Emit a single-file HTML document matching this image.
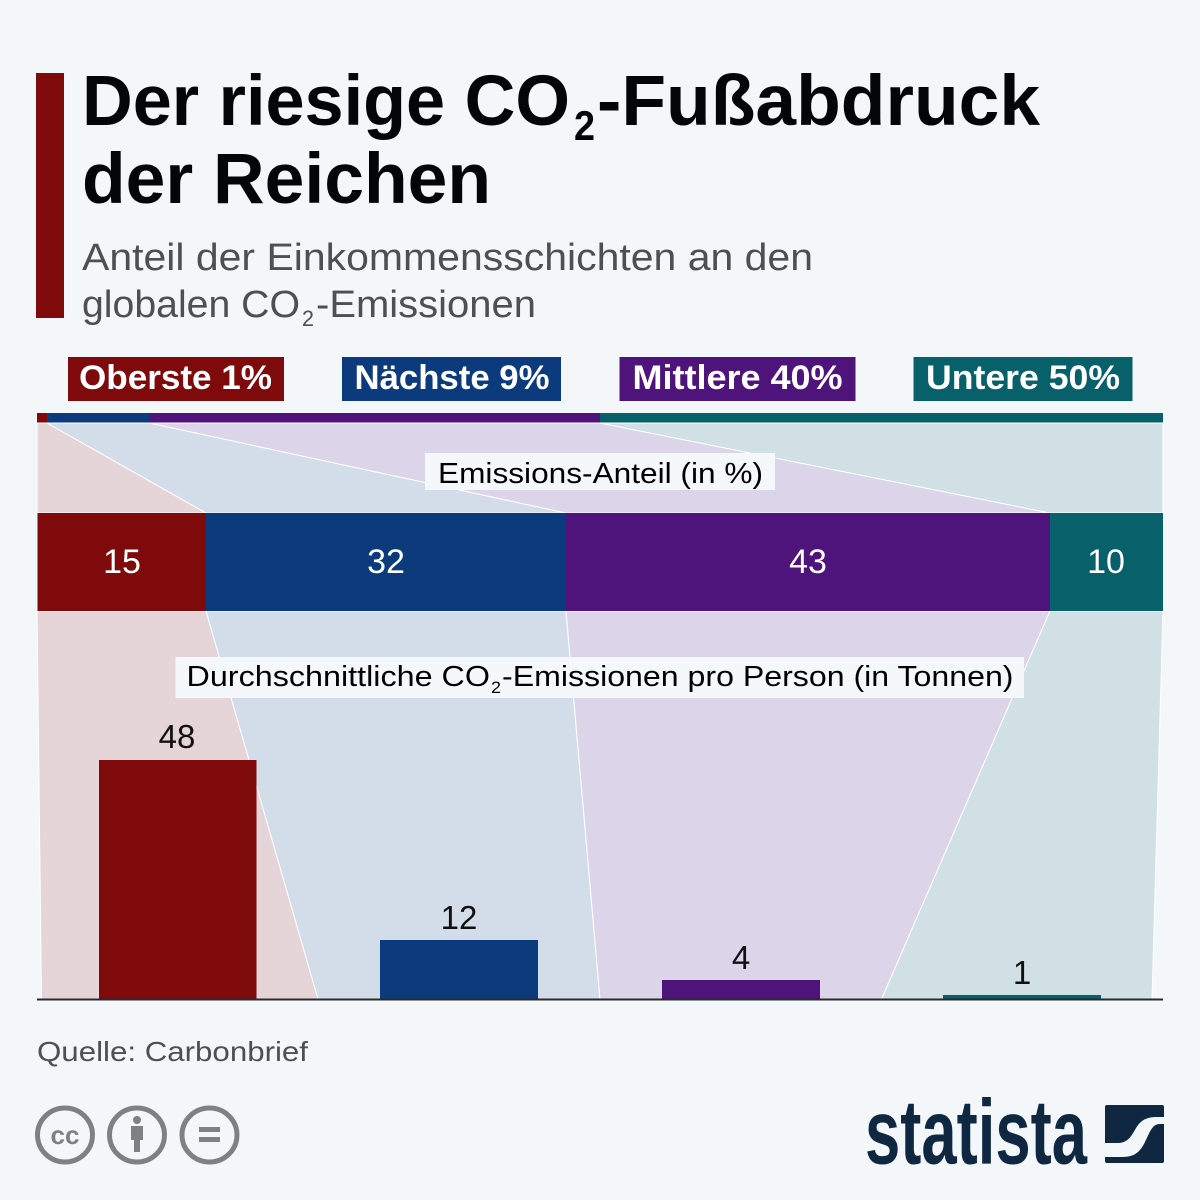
<!DOCTYPE html>
<html>
<head>
<meta charset="utf-8">
<style>
html,body{margin:0;padding:0;background:#f3f7fa;}
svg{display:block;}
text{font-family:"Liberation Sans",sans-serif;}
</style>
</head>
<body>
<svg width="1200" height="1200" viewBox="0 0 1200 1200" xmlns="http://www.w3.org/2000/svg">
<rect x="0" y="0" width="1200" height="1200" fill="#f3f7fa"/>

<!-- Title -->
<rect x="36" y="73" width="28" height="245" fill="#7e0a0c"/>
<text x="82" y="125" font-size="71" font-weight="bold" fill="#030606" textLength="488" lengthAdjust="spacingAndGlyphs">Der riesige CO</text>
<text x="574" y="140" font-size="42" font-weight="bold" fill="#030606" textLength="21" lengthAdjust="spacingAndGlyphs">2</text>
<text x="597" y="125" font-size="71" font-weight="bold" fill="#030606" textLength="443" lengthAdjust="spacingAndGlyphs">-Fußabdruck</text>
<text x="82" y="203" font-size="71" font-weight="bold" fill="#030606" textLength="409" lengthAdjust="spacingAndGlyphs">der Reichen</text>

<!-- Subtitle -->
<text x="82" y="270" font-size="38" fill="#4d4f51" textLength="731" lengthAdjust="spacingAndGlyphs">Anteil der Einkommensschichten an den</text>
<text x="82" y="317" font-size="38" fill="#4d4f51" textLength="218" lengthAdjust="spacingAndGlyphs">globalen CO</text>
<text x="302" y="326" font-size="22" fill="#4d4f51" textLength="12" lengthAdjust="spacingAndGlyphs">2</text>
<text x="316" y="317" font-size="38" fill="#4d4f51" textLength="220" lengthAdjust="spacingAndGlyphs">-Emissionen</text>

<!-- Legend -->
<rect x="68" y="357" width="216" height="44" fill="#7e0a0c"/>
<text x="79" y="389" font-size="34" font-weight="bold" fill="#ffffff" textLength="193" lengthAdjust="spacingAndGlyphs">Oberste 1%</text>
<rect x="342" y="357" width="219" height="44" fill="#0b3b7d"/>
<text x="354.5" y="389" font-size="34" font-weight="bold" fill="#ffffff" textLength="195" lengthAdjust="spacingAndGlyphs">Nächste 9%</text>
<rect x="619.5" y="357" width="236" height="44" fill="#4f137c"/>
<text x="632.5" y="389" font-size="34" font-weight="bold" fill="#ffffff" textLength="210" lengthAdjust="spacingAndGlyphs">Mittlere 40%</text>
<rect x="913.5" y="357" width="219" height="44" fill="#08606a"/>
<text x="926" y="389" font-size="34" font-weight="bold" fill="#ffffff" textLength="194" lengthAdjust="spacingAndGlyphs">Untere 50%</text>

<!-- Top strip -->
<rect x="37" y="413" width="10" height="10" fill="#7e0a0c"/>
<rect x="47" y="413" width="102.5" height="10" fill="#0b3b7d"/>
<rect x="149.5" y="413" width="450.5" height="10" fill="#4f137c"/>
<rect x="600" y="413" width="563" height="10" fill="#08606a"/>

<!-- Upper funnel -->
<g stroke="#ffffff" stroke-width="1">
<polygon points="37,423 47,423 206,513 37,513" fill="#e5d4d8"/>
<polygon points="47,423 149.5,423 566,513 206,513" fill="#d3dde9"/>
<polygon points="149.5,423 600,423 1050,513 566,513" fill="#dcd5e9"/>
<polygon points="600,423 1163,423 1163,513 1050,513" fill="#d1e0e5"/>
</g>

<!-- Emissions-Anteil label -->
<rect x="425" y="453" width="350" height="37" fill="#f5f8fb"/>
<text x="438" y="483" font-size="29" fill="#000000" textLength="325" lengthAdjust="spacingAndGlyphs">Emissions-Anteil (in %)</text>

<!-- Lower funnel -->
<g stroke="#ffffff" stroke-width="1">
<polygon points="37,611 206,611 318,999 41.5,999" fill="#e5d4d8"/>
<polygon points="206,611 566,611 600,999 318,999" fill="#d3dde9"/>
<polygon points="566,611 1050,611 881.6,999 600,999" fill="#dcd5e9"/>
<polygon points="1050,611 1163,611 1152,999 881.6,999" fill="#d1e0e5"/>
</g>

<!-- Emission share bar -->
<rect x="37.5" y="513" width="168.5" height="98" fill="#7e0a0c"/>
<rect x="206" y="513" width="360" height="98" fill="#0b3b7d"/>
<rect x="566" y="513" width="484" height="98" fill="#4f137c"/>
<rect x="1050" y="513" width="113" height="98" fill="#08606a"/>
<g font-size="34" fill="#ffffff" text-anchor="middle">
<text x="122" y="573">15</text>
<text x="386" y="573">32</text>
<text x="808" y="573">43</text>
<text x="1106" y="573">10</text>
</g>

<!-- Durchschnittliche label -->
<rect x="175.5" y="657" width="848.5" height="41" fill="#f5f8fb"/>
<text x="186.5" y="686" font-size="29" fill="#000000" textLength="303.5" lengthAdjust="spacingAndGlyphs">Durchschnittliche CO</text>
<text x="491" y="693" font-size="17" fill="#000000" textLength="10" lengthAdjust="spacingAndGlyphs">2</text>
<text x="502" y="686" font-size="29" fill="#000000" textLength="511.5" lengthAdjust="spacingAndGlyphs">-Emissionen pro Person (in Tonnen)</text>

<!-- Bars -->
<rect x="99" y="760" width="157.5" height="240" fill="#7e0a0c"/>
<rect x="380" y="940" width="158" height="60" fill="#0b3b7d"/>
<rect x="662" y="980" width="158" height="20" fill="#4f137c"/>
<rect x="943" y="995" width="158" height="5" fill="#08606a"/>
<g font-size="33" fill="#111111" text-anchor="middle">
<text x="177" y="748">48</text>
<text x="459" y="929">12</text>
<text x="741" y="969">4</text>
<text x="1022" y="984">1</text>
</g>

<!-- Baseline -->
<rect x="37" y="998.5" width="1126" height="2" fill="#2b2b2b"/>

<!-- Source -->
<text x="37" y="1061" font-size="28" fill="#4d4f51" textLength="271" lengthAdjust="spacingAndGlyphs">Quelle: Carbonbrief</text>

<!-- CC icons -->
<g fill="none" stroke="#808080" stroke-width="5">
<ellipse cx="65" cy="1135" rx="27.5" ry="27"/>
<ellipse cx="137" cy="1135" rx="27.5" ry="27"/>
<ellipse cx="209.5" cy="1135" rx="27.5" ry="27"/>
</g>
<text x="65" y="1144" font-size="26" font-weight="bold" fill="#808080" text-anchor="middle">cc</text>
<circle cx="137" cy="1120" r="4" fill="#808080"/>
<rect x="131" y="1126" width="12" height="14" fill="#808080"/>
<rect x="134" y="1138" width="6" height="14" fill="#808080"/>
<rect x="199" y="1127" width="21" height="5" fill="#808080"/>
<rect x="199" y="1137" width="21" height="5" fill="#808080"/>

<!-- Statista logo -->
<text x="865" y="1163" font-size="80" font-weight="bold" fill="#0f2741" font-family="'Liberation Sans Narrow','Liberation Sans',sans-serif" textLength="222" lengthAdjust="spacingAndGlyphs" transform="translate(0,-168) scale(1,1.145)">statista</text>
<rect x="1105" y="1105" width="59" height="58" rx="2" fill="#0f2741"/>
<path d="M1105,1143 L1118,1143 C1130,1143 1133,1132 1138,1125 C1143,1119 1148,1117 1158,1117 L1164,1117 L1164,1124 L1160,1124 C1152,1124 1150,1132 1145,1142 C1140,1152 1135,1157 1122,1157 L1105,1157 Z" fill="#f3f7fa"/>
</svg>
</body>
</html>
